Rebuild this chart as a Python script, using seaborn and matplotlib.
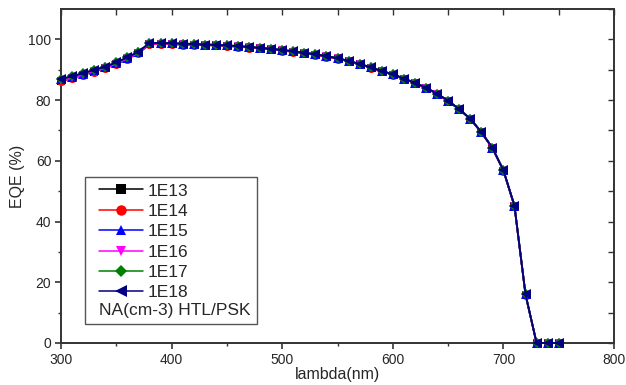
import numpy as np
import pandas as pd
import matplotlib
matplotlib.use("Agg")
import matplotlib.pyplot as plt
import seaborn as sns
from matplotlib.offsetbox import HPacker, VPacker, DrawingArea

# Wavelength grid (nm)
wavelength = list(range(300, 760, 10))

# EQE (%) for each acceptor doping level NA (cm-3) of the HTL/PSK
eqe_1e13 = [86.3, 87.2, 88.3, 89.4, 90.5, 91.9, 93.6, 95.4, 98.4, 98.5, 98.4, 98.3, 98.2, 98.1,
            98.0, 97.8, 97.6, 97.3, 97.0, 96.7, 96.3, 95.9, 95.4, 94.9, 94.3, 93.6, 92.8, 91.8,
            90.7, 89.5, 88.4, 87.0, 85.6, 84.0, 82.0, 79.7, 77.0, 73.8, 69.4, 64.2, 56.8, 45.1,
            15.9, 0.0, 0.0, 0.0]
eqe_1e14 = [86.3, 87.2, 88.3, 89.4, 90.5, 91.9, 93.6, 95.4, 98.4, 98.5, 98.4, 98.3, 98.2, 98.1,
            98.0, 97.8, 97.6, 97.3, 97.0, 96.7, 96.3, 95.9, 95.4, 94.9, 94.3, 93.6, 92.8, 91.8,
            90.7, 89.5, 88.4, 87.0, 85.6, 84.0, 82.0, 79.7, 77.0, 73.8, 69.4, 64.2, 56.8, 45.1,
            15.9, 0.0, 0.0, 0.0]
eqe_1e15 = [86.8, 87.6, 88.7, 89.8, 90.9, 92.3, 94.0, 95.8, 98.7, 98.8, 98.7, 98.6, 98.4, 98.3,
            98.2, 98.0, 97.8, 97.5, 97.2, 96.9, 96.5, 96.1, 95.6, 95.1, 94.5, 93.8, 92.9, 91.9,
            90.8, 89.6, 88.5, 87.1, 85.7, 84.1, 82.1, 79.8, 77.0, 73.9, 69.5, 64.3, 56.9, 45.2,
            16.0, 0.0, 0.0, 0.0]
eqe_1e16 = [86.4, 87.3, 88.4, 89.5, 90.6, 92.0, 93.7, 95.5, 98.5, 98.6, 98.5, 98.4, 98.3, 98.2,
            98.1, 97.9, 97.7, 97.4, 97.1, 96.8, 96.4, 96.0, 95.5, 95.0, 94.4, 93.7, 92.8, 91.8,
            90.7, 89.5, 88.4, 87.0, 85.6, 84.0, 82.0, 79.7, 77.0, 73.8, 69.4, 64.2, 56.8, 45.1,
            15.9, 0.0, 0.0, 0.0]
eqe_1e17 = [87.0, 87.8, 88.9, 89.9, 91.0, 92.4, 94.1, 95.9, 98.8, 98.8, 98.7, 98.6, 98.5, 98.3,
            98.2, 98.0, 97.8, 97.5, 97.2, 96.9, 96.5, 96.1, 95.6, 95.1, 94.5, 93.8, 92.9, 91.9,
            90.8, 89.6, 88.5, 87.1, 85.7, 84.1, 82.1, 79.8, 77.0, 73.9, 69.5, 64.3, 56.9, 45.2,
            16.0, 0.0, 0.0, 0.0]
eqe_1e18 = [87.0, 87.8, 88.9, 89.9, 91.0, 92.4, 94.1, 95.9, 98.8, 98.8, 98.7, 98.6, 98.5, 98.3,
            98.2, 98.0, 97.8, 97.5, 97.2, 96.9, 96.5, 96.1, 95.6, 95.1, 94.5, 93.8, 92.9, 91.9,
            90.8, 89.6, 88.5, 87.1, 85.7, 84.1, 82.1, 79.8, 77.0, 73.9, 69.5, 64.3, 56.9, 45.2,
            16.0, 0.0, 0.0, 0.0]

levels = ["1E13", "1E14", "1E15", "1E16", "1E17", "1E18"]
series = [eqe_1e13, eqe_1e14, eqe_1e15, eqe_1e16, eqe_1e17, eqe_1e18]
colors = ["#000000", "#ff0000", "#0000ff", "#ff00ff", "#008000", "#000080"]
markers = ["s", "o", "^", "v", "D", "<"]
marker_sizes = [6, 6.5, 6.5, 6.3, 5, 7.5]

df = pd.DataFrame({
    "lambda": wavelength * len(levels),
    "EQE": [v for s in series for v in s],
    "NA": [lv for lv in levels for _ in wavelength],
})

sns.set_style("white")
plt.rcParams["font.family"] = ["Liberation Sans", "DejaVu Sans"]

fig = plt.figure(figsize=(6.26, 3.85), dpi=100)
ax = fig.add_axes([61 / 626, 1 - 343 / 385, (614 - 61) / 626, (343 - 9) / 385])

sns.lineplot(
    data=df, x="lambda", y="EQE", hue="NA", style="NA",
    hue_order=levels, style_order=levels,
    palette=dict(zip(levels, colors)),
    markers=dict(zip(levels, markers)), dashes=False,
    markeredgewidth=0, linewidth=1.3,
    ax=ax, clip_on=False, zorder=3,
)
for line, ms in zip(ax.get_lines(), marker_sizes):
    line.set_markersize(ms)

ax.set_xlim(300, 800)
ax.set_ylim(0, 110)
ax.set_xticks([300, 400, 500, 600, 700, 800])
ax.set_xticks([350, 450, 550, 650, 750], minor=True)
ax.set_yticks([0, 20, 40, 60, 80, 100])
ax.set_yticks([10, 30, 50, 70, 90], minor=True)

spine_color = "#333333"
for sp in ax.spines.values():
    sp.set_visible(True)
    sp.set_color(spine_color)
    sp.set_linewidth(1.4)

ax.tick_params(which="major", direction="out", length=4, width=1.2, color=spine_color,
               labelsize=10, pad=3, bottom=True, left=True)
ax.tick_params(which="minor", direction="out", length=2.5, width=1.0, color=spine_color,
               bottom=True, left=True)

# Mirrored inward ticks on top and right
top = ax.secondary_xaxis("top")
top.set_xticks([300, 350, 400, 450, 500, 550, 600, 650, 700, 750, 800])
top.tick_params(direction="in", length=4, width=1.0, color=spine_color, labeltop=False)
top.spines["top"].set_visible(False)
right = ax.secondary_yaxis("right")
right.set_yticks(list(range(0, 111, 10)))
right.tick_params(direction="in", length=4, width=1.0, color=spine_color, labelright=False)
right.spines["right"].set_visible(False)

ax.set_xlabel("lambda(nm)", fontsize=11.5, labelpad=0)
ax.set_ylabel("EQE (%)", fontsize=11.5, labelpad=2)

fs = 12.5
handles, labels = ax.get_legend_handles_labels()
leg = ax.legend(handles, labels, title="NA(cm-3) HTL/PSK", loc="lower left",
                bbox_to_anchor=(24 / 553, 19 / 334), fontsize=fs, title_fontsize=fs,
                frameon=True, fancybox=False, edgecolor="#555555", framealpha=1,
                handlelength=2.5, handletextpad=0.3, labelspacing=0.3,
                borderpad=0.25, borderaxespad=0)
leg.get_frame().set_linewidth(1.0)
for h, ms in zip(leg.legend_handles, marker_sizes):
    h.set_markersize(ms + 1)
    h.set_linewidth(1.1)

# Title below the entries, left-aligned, with a little extra room on the left
entries = leg._legend_handle_box
title_box = leg._legend_title_box
inner = VPacker(pad=0, sep=0.15 * fs, align="left", children=[entries, title_box])
outer = HPacker(pad=0.25 * fs * 100 / 72, sep=0, align="center",
                children=[DrawingArea(6, 1), inner])
outer.set_figure(fig)
outer.set_offset(leg._findoffset)
leg._legend_box = outer

fig.savefig("out.png", dpi=100)
